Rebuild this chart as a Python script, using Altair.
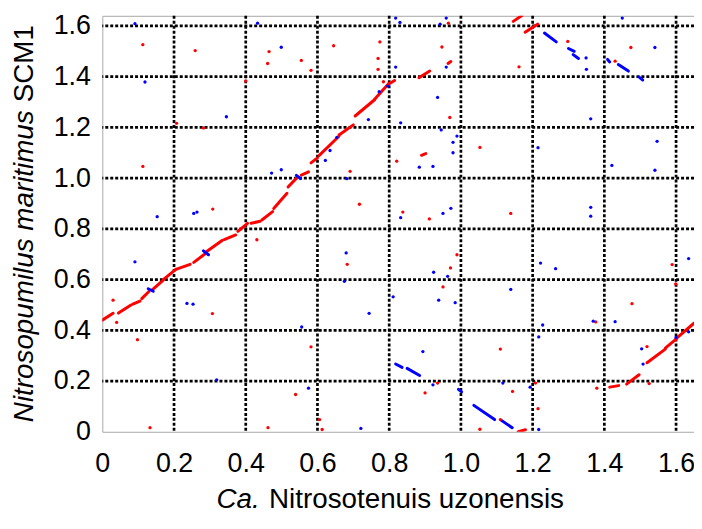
import altair as alt
import pandas as pd

# ---------------- data (genome positions, Mb) ----------------
TICKS = [0, 0.2, 0.4, 0.6, 0.8, 1.0, 1.2, 1.4, 1.6]
GRID = [0.2, 0.4, 0.6, 0.8, 1.0, 1.2, 1.4, 1.6]

# forward (red) matches drawn as short segments: (x1, y1, x2, y2)
red_segments = [
    (0.000, 0.440, 0.030, 0.467), (0.045, 0.468, 0.080, 0.500),
    (0.085, 0.503, 0.105, 0.515), (0.110, 0.525, 0.130, 0.553),
    (0.140, 0.560, 0.170, 0.598), (0.170, 0.600, 0.205, 0.640),
    (0.205, 0.640, 0.245, 0.660), (0.255, 0.668, 0.285, 0.700),
    (0.290, 0.710, 0.335, 0.755), (0.340, 0.758, 0.372, 0.776),
    (0.378, 0.790, 0.405, 0.822), (0.415, 0.822, 0.440, 0.830),
    (0.445, 0.835, 0.475, 0.868), (0.478, 0.880, 0.515, 0.940),
    (0.518, 0.965, 0.545, 1.005), (0.555, 1.012, 0.575, 1.025),
    (0.582, 1.060, 0.600, 1.080), (0.605, 1.090, 0.660, 1.165),
    (0.660, 1.170, 0.700, 1.210), (0.705, 1.245, 0.760, 1.310),
    (0.760, 1.312, 0.800, 1.375), (0.800, 1.372, 0.815, 1.385),
    (0.883, 1.396, 0.913, 1.422), (1.146, 1.618, 1.170, 1.641),
    (1.179, 1.575, 1.214, 1.607), (0.890, 1.090, 0.902, 1.097),
    (0.964, 1.452, 0.972, 1.460),
    (1.415, 0.176, 1.440, 0.182), (1.462, 0.188, 1.497, 0.225),
    (1.519, 0.272, 1.570, 0.326), (1.570, 0.330, 1.600, 0.365),
    (1.600, 0.367, 1.650, 0.428), (1.160, 0.000, 1.180, 0.008),
]

# reverse (blue) matches drawn as short segments
blue_segments = [
    (0.128, 0.564, 0.142, 0.554), (0.282, 0.713, 0.296, 0.698),
    (0.541, 1.011, 0.553, 0.998), (1.233, 1.572, 1.266, 1.537),
    (1.300, 1.511, 1.316, 1.500), (1.313, 1.487, 1.328, 1.472),
    (1.409, 1.468, 1.415, 1.458), (1.439, 1.448, 1.467, 1.422),
    (1.497, 1.398, 1.507, 1.387), (0.818, 0.267, 0.836, 0.254),
    (0.850, 0.250, 0.885, 0.222), (0.993, 0.167, 1.002, 0.157),
    (1.036, 0.104, 1.094, 0.048), (1.113, 0.045, 1.143, 0.016),
]

red_dots = [
    (0.113, 1.526), (0.259, 1.503), (0.465, 1.499), (0.461, 1.452), (0.555, 1.464),
    (0.582, 1.425), (0.645, 1.522), (0.400, 1.383), (0.207, 1.216), (0.282, 1.198),
    (0.113, 1.046), (0.308, 0.878), (0.431, 0.757), (0.030, 0.519), (0.040, 0.431),
    (0.307, 0.466), (0.098, 0.363), (0.133, 0.016), (0.462, 0.016), (0.539, 0.147),
    (0.582, 0.335), (0.606, 0.048), (0.613, 0.009), (0.774, 1.537), (0.769, 1.472),
    (0.769, 1.429), (0.784, 1.380), (0.965, 1.611), (0.947, 1.517), (0.969, 1.239),
    (1.053, 1.121), (0.821, 1.067), (0.691, 1.027), (0.717, 0.897), (0.838, 0.866),
    (0.912, 0.839), (1.139, 0.861), (1.162, 1.439), (1.298, 1.539), (1.430, 1.461),
    (1.474, 1.515), (0.989, 0.698), (0.971, 0.646), (1.589, 0.659), (0.950, 0.571),
    (1.110, 0.326), (0.935, 0.192), (0.900, 0.153), (1.053, 0.010), (1.215, 0.091),
    (1.208, 0.192), (1.144, 0.159), (1.110, 0.048), (1.376, 0.433), (1.477, 0.505),
    (1.599, 0.583), (1.519, 0.336), (1.525, 0.190), (0.683, 0.660), (1.379, 0.172),
]

blue_dots = [
    (0.091, 1.609), (0.119, 1.379), (0.433, 1.611), (0.499, 1.516), (0.346, 1.242),
    (0.153, 0.848), (0.255, 0.861), (0.264, 0.866), (0.472, 1.020), (0.499, 1.033),
    (0.622, 1.070), (0.635, 1.109), (0.654, 1.161), (0.682, 0.998), (0.742, 1.231),
    (0.772, 1.341), (0.796, 1.363), (0.680, 0.705), (0.091, 0.670), (0.236, 0.506),
    (0.253, 0.503), (0.319, 0.205), (0.556, 0.413), (0.575, 0.172), (0.675, 0.593),
    (0.818, 1.631), (0.830, 1.614), (0.959, 1.631), (0.942, 1.607), (0.818, 1.438),
    (0.959, 1.438), (0.935, 1.318), (0.832, 1.218), (0.945, 1.190), (0.989, 1.166),
    (0.978, 1.141), (0.978, 1.100), (0.884, 1.043), (0.922, 1.046), (1.215, 1.120),
    (1.362, 1.234), (1.547, 1.145), (1.421, 1.050), (1.541, 1.031), (0.832, 0.844),
    (0.950, 0.861), (0.972, 0.881), (1.362, 0.885), (1.362, 0.850), (1.450, 1.631),
    (1.541, 1.515), (1.222, 0.665), (1.264, 0.643), (1.635, 0.683), (1.349, 1.474),
    (1.350, 1.429), (0.924, 0.629), (0.963, 0.613), (0.938, 0.519), (0.984, 0.509),
    (0.811, 0.532), (0.744, 0.467), (1.139, 0.561), (0.894, 0.316), (0.922, 0.185),
    (1.117, 0.192), (1.228, 0.421), (1.217, 0.374), (1.217, 0.009), (0.721, 0.013),
    (1.369, 0.436), (1.430, 0.434), (1.504, 0.327), (1.508, 0.267), (1.635, 0.394),
    (1.600, 0.372), (1.193, 0.176),
]

X_TITLE_ITALIC = "Ca."
X_TITLE_REST = "Nitrosotenuis uzonensis"
Y_TITLE_ITALIC = "Nitrosopumilus maritimus"
Y_TITLE_REST = "SCM1"

# ---------------- tables ----------------
seg_rows = [dict(x1=a, y1=b, x2=c, y2=d, kind="fwd") for a, b, c, d in red_segments] + \
           [dict(x1=a, y1=b, x2=c, y2=d, kind="rev") for a, b, c, d in blue_segments]
dot_rows = [dict(x=a, y=b, kind="fwd") for a, b in red_dots] + \
           [dict(x=a, y=b, kind="rev") for a, b in blue_dots]
seg_df = pd.DataFrame(seg_rows)
dot_df = pd.DataFrame(dot_rows)
grid_df = pd.DataFrame({"g": GRID})

FONT = "Liberation Sans"
xs = alt.Scale(domain=[0, 1.65], nice=False, zero=False)
ys = alt.Scale(domain=[0, 1.64], nice=False, zero=False)
label_expr = "datum.value == 0 ? '0' : format(datum.value, '.1f')"
xaxis = alt.Axis(values=TICKS, labelExpr=label_expr, title=None, grid=False,
                 domain=False, ticks=False, labelPadding=19, labelFontSize=27,
                 labelFont=FONT, labelColor="black", labelFlush=False, labelOverlap=False)
yaxis = alt.Axis(values=TICKS, labelExpr=label_expr, title=None, grid=False,
                 domain=False, ticks=False, labelPadding=12, labelFontSize=27,
                 labelFont=FONT, labelColor="black", labelFlush=False, labelOverlap=False)
color = alt.Color("kind:N", scale=alt.Scale(domain=["fwd", "rev"], range=["#ff0000", "#0000ff"]),
                  legend=None)

vgrid = alt.Chart(grid_df).mark_rule(color="black", strokeWidth=2.7, strokeDash=[3, 2]).encode(
    x=alt.X("g:Q", scale=xs, axis=xaxis)
)
hgrid = alt.Chart(grid_df).mark_rule(color="black", strokeWidth=2.7, strokeDash=[3, 2]).encode(
    y=alt.Y("g:Q", scale=ys, axis=yaxis)
)
segs = alt.Chart(seg_df).mark_rule(strokeWidth=3, strokeCap="round", clip=True).encode(
    x=alt.X("x1:Q", scale=xs, axis=xaxis),
    y=alt.Y("y1:Q", scale=ys, axis=yaxis),
    x2="x2:Q", y2="y2:Q", color=color,
)
dots = alt.Chart(dot_df).mark_circle(size=11, opacity=1, clip=True).encode(
    x=alt.X("x:Q", scale=xs, axis=xaxis),
    y=alt.Y("y:Q", scale=ys, axis=yaxis),
    color=color,
)

one = alt.Data(values=[{}])
def label(text, x, y, align, italic, angle=0):
    kw = dict(text=text, align=align, baseline="alphabetic", font=FONT, fontSize=28,
              color="black", angle=angle)
    if italic:
        kw["fontStyle"] = "italic"
    return alt.Chart(one).mark_text(**kw).encode(x=alt.value(x), y=alt.value(y))

titles = [
    label(X_TITLE_ITALIC, 115, 496, "left", True),
    label(X_TITLE_REST, 465, 496, "right", False),
    label(Y_TITLE_ITALIC, -70, 409.3, "left", True, 270),
    label(Y_TITLE_REST, -70, 9.3, "right", False, 270),
]

chart = alt.layer(vgrid, hgrid, segs, dots, *titles).properties(
    width=596, height=419,
    autosize=alt.AutoSizeParams(type="none"),
    padding={"left": 95, "top": 6, "right": 0, "bottom": 85},
).configure_view(stroke="#a8a8a8", strokeWidth=1)

chart.save("out.html", embed_options={"renderer": "svg", "actions": False})
